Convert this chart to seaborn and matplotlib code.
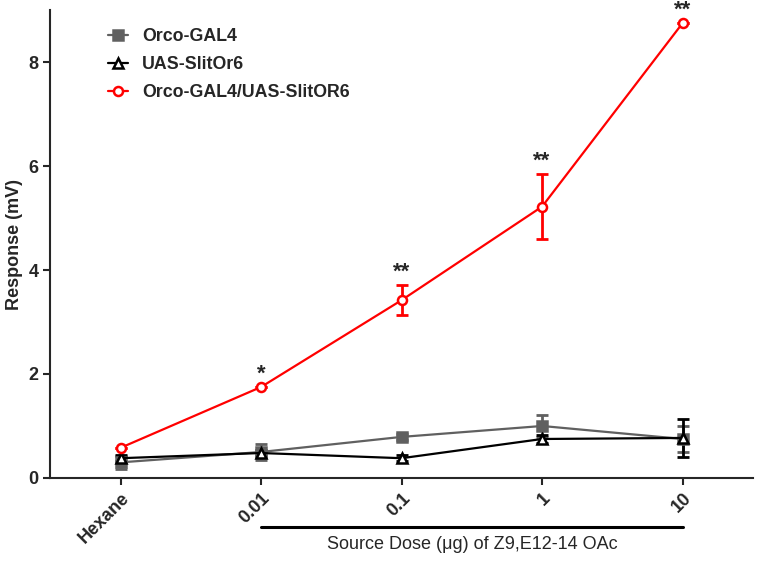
import numpy as np
import pandas as pd
import matplotlib
matplotlib.use("Agg")
import matplotlib.pyplot as plt
import matplotlib.transforms as mtransforms
import seaborn as sns

# data
doses = ["Hexane", "0.01", "0.1", "1", "10"]

orco_mean = [0.30, 0.50, 0.79, 1.00, 0.75]
orco_err = [0.12, 0.15, 0.06, 0.22, 0.25]

uas_mean = [0.38, 0.48, 0.38, 0.75, 0.77]
uas_err = [0.06, 0.05, 0.06, 0.07, 0.37]

cross_mean = [0.58, 1.75, 3.42, 5.22, 8.75]
cross_err = [0.0, 0.0, 0.29, 0.63, 0.0]

stars = ["", "*", "**", "**", "**"]

series = ["Orco-GAL4", "UAS-SlitOr6", "Orco-GAL4/UAS-SlitOR6"]
colors = ["#606060", "#000000", "#ff0000"]
markers = ["s", "^", "o"]
faces = ["#606060", "white", "white"]

sns.set_style("ticks")
plt.rcParams["font.family"] = ["Liberation Sans", "DejaVu Sans"]

x = np.arange(len(doses))
df = pd.DataFrame({
    "x": np.tile(x, 3),
    "y": orco_mean + uas_mean + cross_mean,
    "err": orco_err + uas_err + cross_err,
    "group": np.repeat(series, len(doses)),
})

fig = plt.figure(figsize=(7.62, 5.61), dpi=100)
ax = fig.add_axes([0.066, 0.148, 0.922, 0.834])

for name, col, mk, fc in zip(series, colors, markers, faces):
    sub = df[df["group"] == name]
    ax.errorbar(sub["x"], sub["y"], yerr=sub["err"], fmt="none",
                ecolor=col, elinewidth=2, capsize=4, capthick=2, zorder=2)
    sns.lineplot(data=sub, x="x", y="y", color=col, marker=mk,
                 markerfacecolor=fc, markeredgecolor=col, markeredgewidth=1.8,
                 markersize=6.5, linewidth=1.6, label=name, ax=ax, zorder=3)

# significance stars
for xi, m, e, s in zip(x, cross_mean, cross_err, stars):
    if s:
        ax.text(xi, m + e + 0.05, s, ha="center", va="bottom",
                fontsize=16, fontweight="bold")

ax.set_xlim(-0.5, 4.5)
ax.set_ylim(0, 9)
ax.set_yticks([0, 2, 4, 6, 8])
ax.set_xticks(x)
ax.set_xticklabels(doses, rotation=45, ha="right", rotation_mode="anchor",
                   fontsize=13, fontweight="bold")
for lab in ax.get_yticklabels():
    lab.set_fontsize(13)
    lab.set_fontweight("bold")
ax.tick_params(width=1.5, length=5)
ax.set_xlabel("")
ax.set_ylabel("Response (mV)", fontsize=13, fontweight="bold")
sns.despine(ax=ax)
for sp in ["left", "bottom"]:
    ax.spines[sp].set_linewidth(1.5)

# bracket under the dose labels
trans = mtransforms.blended_transform_factory(ax.transData, ax.transAxes)
ax.plot([1, 4], [-0.105, -0.105], color="black", linewidth=2.2,
        transform=trans, clip_on=False)
ax.text(2.5, -0.125, "Source Dose (\u03bcg) of Z9,E12-14 OAc", transform=trans,
        ha="center", va="top", fontsize=13)

ax.legend(loc="upper left", bbox_to_anchor=(0.06, 0.995),
          frameon=False, handlelength=1.1, handletextpad=0.8,
          prop={"weight": "bold", "size": 12.8}, labelspacing=0.6)

fig.savefig("out.png", dpi=100)
